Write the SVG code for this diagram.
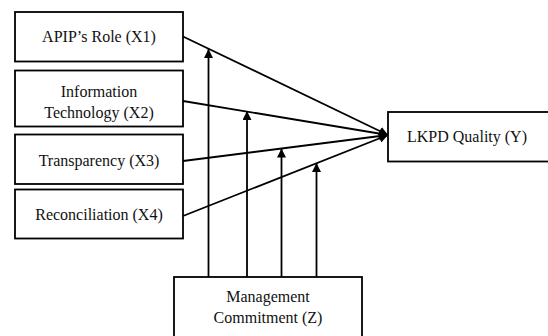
<svg xmlns="http://www.w3.org/2000/svg" width="548" height="336" viewBox="0 0 548 336">
<style>
.box{fill:#fff;stroke:#000;stroke-width:1.8}
.t{font-family:'Liberation Serif','Times New Roman',serif;font-size:16px;fill:#111;text-anchor:middle}
.ln{stroke:#000;stroke-width:1.8;fill:none}
</style>
<defs>
<marker id="ah" viewBox="0 0 10 10" refX="10" refY="5" markerWidth="5" markerHeight="5" orient="auto" markerUnits="strokeWidth">
<path d="M0,0 L10,5 L0,10 z" fill="#000"/>
</marker>
</defs>
<rect width="548" height="336" fill="#fff"/>
<g id="connectors">
<line class="ln" x1="183" y1="36.5" x2="388" y2="135" marker-end="url(#ah)"/>
<line class="ln" x1="183" y1="101" x2="388" y2="135" marker-end="url(#ah)"/>
<line class="ln" x1="183" y1="161" x2="388" y2="135" marker-end="url(#ah)"/>
<line class="ln" x1="183" y1="216" x2="388" y2="135" marker-end="url(#ah)"/>
<line class="ln" x1="208.5" y1="277" x2="208.5" y2="49" marker-end="url(#ah)"/>
<line class="ln" x1="247" y1="277" x2="247" y2="111" marker-end="url(#ah)"/>
<line class="ln" x1="281.5" y1="277" x2="281.5" y2="148.5" marker-end="url(#ah)"/>
<line class="ln" x1="316.5" y1="277" x2="316.5" y2="163" marker-end="url(#ah)"/>
</g>
<g id="x1"><rect class="box" x="15" y="12" width="168" height="49.5"/><text class="t" x="99" y="42">APIP’s Role (X1)</text></g>
<g id="x2"><rect class="box" x="15" y="70.5" width="168" height="56"/><text class="t" x="99" y="97">Information</text><text class="t" x="99" y="117.5">Technology (X2)</text></g>
<g id="x3"><rect class="box" x="15" y="134.5" width="168" height="49.5"/><text class="t" x="99" y="166">Transparency (X3)</text></g>
<g id="x4"><rect class="box" x="15" y="189.5" width="168" height="49"/><text class="t" x="99" y="220">Reconciliation (X4)</text></g>
<g id="y"><rect class="box" x="388" y="112" width="162" height="49.5"/><text class="t" x="467" y="142">LKPD Quality (Y)</text></g>
<g id="z"><rect class="box" x="174" y="277" width="188" height="62"/><text class="t" x="268" y="302">Management</text><text class="t" x="268" y="322.5">Commitment (Z)</text></g>
</svg>
